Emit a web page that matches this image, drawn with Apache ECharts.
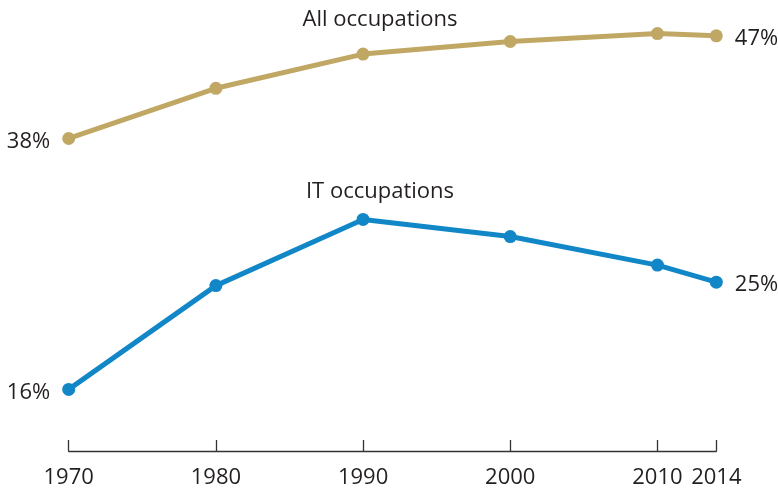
<!DOCTYPE html>
<html>
<head>
<meta charset="utf-8">
<script src="https://cdn.jsdelivr.net/npm/echarts@6/dist/echarts.min.js"></script>
<style>
  html, body { margin: 0; padding: 0; background: #fff; }
  #chart { width: 778px; height: 489px; }
</style>
</head>
<body>
<div id="chart"></div>
<script>
const years = [1970, 1980, 1990, 2000, 2010, 2014];
const tickYears = [1970, 1980, 1990, 2000, 2010, 2014];
const allOccupations = [38.0, 42.4, 45.4, 46.5, 47.2, 47.0];
const itOccupations = [16.0, 25.1, 30.9, 29.4, 26.9, 25.4];
const seriesNames = ['All occupations', 'IT occupations'];

const FONT = 'Open Sans';
const TEXT = '#231f20';

function endLabels(values) {
    const last = values.length - 1;
    return values.map((v, i) => {
        const item = { value: [years[i], v] };
        if (i === 0 || i === last) {
            item.label = {
                show: true,
                position: i === 0 ? 'left' : 'right',
                distance: 12,
                offset: [0, 3],
                formatter: Math.round(v) + '%',
                color: TEXT,
                fontFamily: FONT,
                fontSize: 22
            };
        }
        return item;
    });
}

function lineSeries(name, values, color) {
    return {
        name: name,
        type: 'line',
        data: endLabels(values),
        symbol: 'circle',
        symbolSize: 13,
        lineStyle: { color: color, width: 5 },
        itemStyle: { color: color },
        label: { show: false },
        emphasis: { disabled: true },
        animation: false
    };
}

const chart = echarts.init(document.getElementById('chart'));
chart.setOption({
    animation: false,
    grid: { left: 68.7, right: 61.7, top: 1.6, bottom: 36.3 },
    title: [
        { text: seriesNames[0], left: 375, top: 4, textAlign: 'center',
          textStyle: { fontFamily: FONT, fontSize: 22, fontWeight: 'normal', color: TEXT } },
        { text: seriesNames[1], left: 375, top: 176, textAlign: 'center',
          textStyle: { fontFamily: FONT, fontSize: 22, fontWeight: 'normal', color: TEXT } }
    ],
    xAxis: {
        type: 'value',
        min: 1970,
        max: 2014,
        splitLine: { show: false },
        axisLine: { show: true, lineStyle: { color: '#333', width: 1.3 } },
        axisTick: { show: true, inside: true, length: 11, customValues: tickYears,
                    lineStyle: { color: '#333', width: 1.3 } },
        axisLabel: { customValues: tickYears, margin: 16, formatter: (v) => String(v),
                     fontFamily: FONT, fontSize: 22, color: TEXT }
    },
    yAxis: {
        type: 'value',
        min: 10.6,
        max: 50,
        show: false,
        splitLine: { show: false }
    },
    series: [
        lineSeries(seriesNames[0], allOccupations, '#c0a864'),
        lineSeries(seriesNames[1], itOccupations, '#1287c8')
    ]
});
</script>
</body>
</html>
